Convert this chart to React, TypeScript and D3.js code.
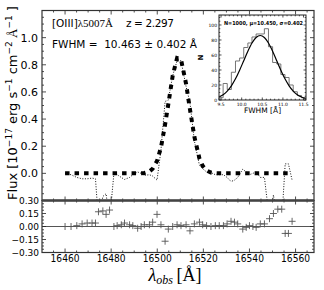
import { useRef, useEffect } from 'react';
import * as d3 from 'd3';

// observed wavelength grid (Angstrom)
const wavelength = [
	16460.0, 16462.6, 16465.1, 16467.4, 16469.6, 16471.7, 16473.2, 16474.5, 16476.4, 16477.8,
	16479.3, 16481.2, 16482.6, 16484.4, 16485.8, 16488.0, 16489.4, 16491.5, 16493.0, 16494.4,
	16496.6, 16498.0, 16499.9, 16501.6, 16503.4, 16504.8, 16506.7, 16508.6, 16510.3, 16512.5,
	16514.2, 16516.1, 16518.3, 16519.7, 16521.4, 16523.3, 16525.2, 16526.9, 16528.7, 16530.3,
	16532.0, 16533.5, 16534.9, 16537.1, 16538.6, 16540.0, 16541.5, 16542.9, 16544.7, 16546.5,
	16548.7, 16550.4, 16552.3, 16554.0, 16555.5, 16556.9, 16558.5,
];

// observed flux (dotted)
const dataFlux = [
	0.0, -0.01, -0.03, -0.04, -0.04, -0.035, -0.04, -0.35, -0.17, -0.15,
	-0.35, 0.0, -0.01, -0.03, -0.045, -0.03, -0.01, 0.01, 0.0, -0.015,
	-0.01, -0.02, -0.05, 0.17, 0.53, 0.54, 0.72, 0.83, 0.83, 0.64,
	0.52, 0.24, 0.06, 0.035, 0.01, 0.006, -0.01, -0.01, -0.01, -0.03,
	-0.06, -0.05, -0.03, 0.03, 0.01, -0.01, 0.0, 0.01, -0.03, -0.03,
	-0.35, -0.16, -0.35, -0.35, 0.07, 0.07, -0.05,
];

// gaussian model (thick dashed)
const modelFlux = [
	0, 0, 0, 0, 0, 0, 0, 0, 0, 0,
	0, 0, 0, 0, 0, 0, 0, 0, 0.001, 0.003,
	0.014, 0.034, 0.091, 0.19, 0.36, 0.51, 0.72, 0.85, 0.84, 0.66,
	0.47, 0.27, 0.11, 0.055, 0.021, 0.006, 0.001, 0, 0, 0,
	0, 0, 0, 0, 0, 0, 0, 0, 0, 0,
	0, 0, 0, 0, 0, 0, 0,
];

// residuals (lower panel)
const residual = [
	0.0, 0.0, 0.01, 0.03, 0.04, 0.04, 0.04, 0.17, 0.18, 0.14,
	0.19, 0.0, 0.01, 0.02, 0.04, 0.02, 0.01, -0.02, 0.0, 0.02,
	0.02, 0.05, 0.14, 0.02, -0.17, -0.03, 0.0, 0.02, 0.01, 0.02,
	-0.05, 0.03, 0.05, 0.02, 0.01, 0.0, 0.01, 0.01, 0.01, 0.03,
	0.06, 0.05, 0.03, -0.03, -0.01, 0.01, 0.0, -0.01, 0.03, 0.03,
	0.09, 0.15, 0.2, 0.2, -0.08, -0.08, 0.06,
];

// inset: FWHM histogram of 1000 realisations
const binEdges = [
	9.45, 9.55, 9.65, 9.75, 9.85, 9.95, 10.05, 10.15, 10.25, 10.35, 10.45,
	10.55, 10.65, 10.75, 10.85, 10.95, 11.05, 11.15, 11.25, 11.35, 11.45, 11.55,
];
const binCounts = [3, 22, 14, 37, 52, 56, 70, 76, 84, 88, 88, 95, 71, 50, 48, 34, 30, 20, 11, 6, 3];
const fitX = [9.45, 9.55, 9.65, 9.75, 9.85, 9.95, 10.05, 10.15, 10.25, 10.35, 10.45, 10.55, 10.65, 10.75, 10.85, 10.95, 11.05, 11.15, 11.25, 11.35, 11.45, 11.55];
const fitN = [3.9, 7.0, 11.9, 18.9, 28.2, 39.7, 52.4, 65.1, 76.0, 83.4, 86, 83.4, 76.0, 65.1, 52.4, 39.7, 28.2, 18.9, 11.9, 7.0, 3.9, 2.0];

const xTicks = [16460, 16480, 16500, 16520, 16540, 16560];
const fluxTicks = [0, 0.2, 0.4, 0.6, 0.8, 1.0];
const residTicks = [-0.3, -0.15, 0, 0.15, 0.3];
const insetXTicks = [9.5, 10.0, 10.5, 11.0, 11.5];
const insetYTicks = [0, 20, 40, 60, 80, 100];

const SANS = 'DejaVu Sans, sans-serif';
const SERIF = 'Liberation Serif, serif';

const App = () => {
	const svgRef = useRef<SVGSVGElement>(null);

	const width = 324;
	const height = 290;
	const left = 42;
	const right = 314;
	const mainTop = 10.5;
	const mainBottom = 200.5;
	const resBottom = 252.5;
	const inset = { left: 219, right: 306, top: 15, bottom: 100 };

	useEffect(() => {
		const svg = d3.select(svgRef.current);
		svg.selectAll('*').remove();

		const x = d3.scaleLinear().domain([16450, 16568]).range([left, right]);
		const yMain = d3.scaleLinear().domain([-0.2, 1.2]).range([mainBottom, mainTop]);
		const yRes = d3.scaleLinear().domain([-0.3, 0.3]).range([resBottom, mainBottom]);

		svg.append('rect').attr('width', width).attr('height', height).attr('fill', '#fff');

		const defs = svg.append('defs');
		defs.append('clipPath').attr('id', 'clip-main')
			.append('rect').attr('x', left).attr('y', mainTop).attr('width', right - left).attr('height', mainBottom - mainTop);
		defs.append('clipPath').attr('id', 'clip-res')
			.append('rect').attr('x', left).attr('y', mainBottom).attr('width', right - left).attr('height', resBottom - mainBottom);

		// helper: inward ticks on all four sides of a panel
		const drawTicks = (
			g: d3.Selection<SVGGElement, unknown, null, undefined>,
			xs: d3.ScaleLinear<number, number>,
			ys: d3.ScaleLinear<number, number>,
			xMajor: number[], xMinor: number[], yMajor: number[], yMinor: number[],
			x0: number, x1: number, y0: number, y1: number, big: number, small: number,
		) => {
			const path = d3.path();
			xMajor.forEach((v) => {
				const px = xs(v);
				path.moveTo(px, y1); path.lineTo(px, y1 - big);
				path.moveTo(px, y0); path.lineTo(px, y0 + big);
			});
			xMinor.forEach((v) => {
				const px = xs(v);
				path.moveTo(px, y1); path.lineTo(px, y1 - small);
				path.moveTo(px, y0); path.lineTo(px, y0 + small);
			});
			yMajor.forEach((v) => {
				const py = ys(v);
				path.moveTo(x0, py); path.lineTo(x0 + big, py);
				path.moveTo(x1, py); path.lineTo(x1 - big, py);
			});
			yMinor.forEach((v) => {
				const py = ys(v);
				path.moveTo(x0, py); path.lineTo(x0 + small, py);
				path.moveTo(x1, py); path.lineTo(x1 - small, py);
			});
			g.append('path').attr('d', path.toString()).attr('stroke', '#222').attr('stroke-width', 0.8).attr('fill', 'none');
		};

		const xMinor = d3.range(16455, 16568, 5).filter((v) => v % 20 !== 0);
		const mainYMinor = d3.range(-0.15, 1.2, 0.05).filter((v) => Math.abs(Math.round(v / 0.2) * 0.2 - v) > 1e-6);
		const resYMinor = d3.range(-0.2625, 0.3, 0.0375).filter((v) => Math.abs(Math.round(v / 0.15) * 0.15 - v) > 1e-6);

		// ---- main panel ----
		const main = svg.append('g');
		const lineMain = d3.line<number>().x((d, i) => x(wavelength[i])).y((d) => yMain(d));

		main.append('path')
			.datum(dataFlux)
			.attr('clip-path', 'url(#clip-main)')
			.attr('d', lineMain)
			.attr('fill', 'none')
			.attr('stroke', '#111')
			.attr('stroke-width', 1)
			.attr('stroke-dasharray', '1 1.6');

		main.append('path')
			.datum(modelFlux)
			.attr('clip-path', 'url(#clip-main)')
			.attr('d', lineMain)
			.attr('fill', 'none')
			.attr('stroke', '#000')
			.attr('stroke-width', 4)
			.attr('stroke-dasharray', '4.5 5');

		drawTicks(main, x, yMain, xTicks, xMinor, fluxTicks, mainYMinor, left, right, mainTop, mainBottom, 4, 2);

		main.selectAll('text.ytick')
			.data(fluxTicks)
			.enter()
			.append('text')
			.attr('x', left - 4)
			.attr('y', (d) => yMain(d))
			.attr('dy', '0.36em')
			.attr('text-anchor', 'end')
			.attr('font-family', SANS)
			.attr('font-size', 11)
			.text((d) => d3.format('.1f')(d));

		main.append('rect')
			.attr('x', left).attr('y', mainTop)
			.attr('width', right - left).attr('height', mainBottom - mainTop)
			.attr('fill', 'none').attr('stroke', '#333').attr('stroke-width', 1.2);

		// annotations
		const t1 = main.append('text').attr('x', 52).attr('y', 27).attr('font-family', SANS).attr('font-size', 10.5);
		t1.append('tspan').text('[OIII]');
		t1.append('tspan').attr('font-family', SERIF).attr('font-size', 11).text('λ5007Å');
		main.append('text')
			.attr('x', 126).attr('y', 27)
			.attr('font-family', SANS).attr('font-size', 10.5)
			.attr('textLength', 48).attr('lengthAdjust', 'spacing')
			.text('z = 2.297');
		main.append('text')
			.attr('x', 52).attr('y', 48)
			.attr('font-family', SANS).attr('font-size', 10.5)
			.style('white-space', 'pre')
			.text('FWHM =  10.463 ± 0.402 Å');

		// ---- residual panel ----
		const res = svg.append('g');
		res.append('line')
			.attr('x1', left).attr('x2', right)
			.attr('y1', yRes(0)).attr('y2', yRes(0))
			.attr('stroke', '#555').attr('stroke-width', 1);

		res.append('g')
			.attr('clip-path', 'url(#clip-res)')
			.selectAll('path')
			.data(residual)
			.enter()
			.append('path')
			.attr('transform', (d, i) => `translate(${x(wavelength[i])},${yRes(d)})`)
			.attr('d', 'M-3.5,0H3.5M0,-3.5V3.5')
			.attr('stroke', '#555')
			.attr('stroke-width', 0.9)
			.attr('fill', 'none');

		drawTicks(res, x, yRes, xTicks, xMinor, residTicks, resYMinor, left, right, mainBottom, resBottom, 4, 2);

		res.selectAll('text.rtick')
			.data(residTicks)
			.enter()
			.append('text')
			.attr('x', left - 3)
			.attr('y', (d) => yRes(d))
			.attr('dy', '0.36em')
			.attr('text-anchor', 'end')
			.attr('font-family', SANS)
			.attr('font-size', 9)
			.text((d) => d3.format('.2f')(d).replace('-', '\u2212'));

		res.selectAll('text.xtick')
			.data(xTicks)
			.enter()
			.append('text')
			.attr('x', (d) => x(d))
			.attr('y', 262)
			.attr('text-anchor', 'middle')
			.attr('font-family', SANS)
			.attr('font-size', 10.5)
			.attr('textLength', 29)
			.attr('lengthAdjust', 'spacingAndGlyphs')
			.text((d) => String(d));

		res.append('rect')
			.attr('x', left).attr('y', mainBottom)
			.attr('width', right - left).attr('height', resBottom - mainBottom)
			.attr('fill', 'none').attr('stroke', '#333').attr('stroke-width', 1.2);
		res.append('line')
			.attr('x1', left).attr('x2', right)
			.attr('y1', mainBottom).attr('y2', mainBottom)
			.attr('stroke', '#444').attr('stroke-width', 2.4);

		// axis labels
		const xl = svg.append('text')
			.attr('x', 175).attr('y', 281)
			.attr('text-anchor', 'middle')
			.attr('font-family', SERIF)
			.attr('font-size', 18);
		xl.append('tspan').attr('font-style', 'italic').text('λ');
		xl.append('tspan').attr('font-style', 'italic').attr('font-size', 12).attr('dy', 3).text('obs');
		xl.append('tspan').attr('dy', -3).text('\u2009[Å]');

		const yl = svg.append('text')
			.attr('transform', 'translate(16.5,103) rotate(-90)')
			.attr('text-anchor', 'middle')
			.attr('font-family', SANS)
			.attr('font-size', 13);
		yl.append('tspan').text('Flux [10');
		yl.append('tspan').attr('dy', -5).attr('font-size', 9).text('\u221217');
		yl.append('tspan').attr('dy', 5).text(' erg s');
		yl.append('tspan').attr('dy', -5).attr('font-size', 9).text('\u22121');
		yl.append('tspan').attr('dy', 5).text(' cm');
		yl.append('tspan').attr('dy', -5).attr('font-size', 9).text('\u22122');
		yl.append('tspan').attr('dy', 5).attr('font-family', SERIF).text(' Å');
		yl.append('tspan').attr('dy', -5).attr('font-size', 9).text('\u22121');
		yl.append('tspan').attr('dy', 5).text(' ]');

		// ---- inset ----
		const xi = d3.scaleLinear().domain([9.45, 11.56]).range([inset.left, inset.right]);
		const yi = d3.scaleLinear().domain([0, 113.3]).range([inset.bottom, inset.top]);
		const ins = svg.append('g');
		ins.append('rect')
			.attr('x', inset.left).attr('y', inset.top)
			.attr('width', inset.right - inset.left).attr('height', inset.bottom - inset.top)
			.attr('fill', '#fff');

		const steps: [number, number][] = [[binEdges[0], 0]];
		binCounts.forEach((c, i) => steps.push([binEdges[i], c]));
		steps.push([binEdges[binEdges.length - 1], binCounts[binCounts.length - 1]]);
		steps.push([binEdges[binEdges.length - 1], 0]);
		ins.append('path')
			.attr('d', d3.line().x((d) => xi(d[0])).y((d) => yi(d[1])).curve(d3.curveStepAfter)(steps))
			.attr('fill', 'none')
			.attr('stroke', '#666')
			.attr('stroke-width', 0.9);

		ins.append('path')
			.datum(fitX.map((v, i) => [v, fitN[i]] as [number, number]))
			.attr('d', d3.line().x((d) => xi(d[0])).y((d) => yi(d[1])).curve(d3.curveMonotoneX))
			.attr('fill', 'none')
			.attr('stroke', '#000')
			.attr('stroke-width', 1.2);

		drawTicks(
			ins, xi, yi, insetXTicks, d3.range(9.6, 11.5, 0.1).filter((v) => Math.abs(v * 2 - Math.round(v * 2)) > 1e-6),
			insetYTicks, d3.range(5, 113, 5).filter((v) => v % 20 !== 0),
			inset.left, inset.right, inset.top, inset.bottom, 2.5, 1.3,
		);

		ins.append('rect')
			.attr('x', inset.left).attr('y', inset.top)
			.attr('width', inset.right - inset.left).attr('height', inset.bottom - inset.top)
			.attr('fill', 'none').attr('stroke', '#222').attr('stroke-width', 1);

		ins.selectAll('text.iy')
			.data(insetYTicks)
			.enter()
			.append('text')
			.attr('x', inset.left - 2)
			.attr('y', (d) => yi(d))
			.attr('dy', '0.36em')
			.attr('text-anchor', 'end')
			.attr('font-family', SANS)
			.attr('font-size', 4.5)
			.text((d) => String(d));
		ins.selectAll('text.ix')
			.data(insetXTicks)
			.enter()
			.append('text')
			.attr('x', (d) => xi(d))
			.attr('y', inset.bottom + 5.5)
			.attr('text-anchor', 'middle')
			.attr('font-family', SANS)
			.attr('font-size', 4.5)
			.text((d) => d3.format('.1f')(d));

		ins.append('text')
			.attr('x', (inset.left + inset.right) / 2 + 1).attr('y', 24.5)
			.attr('text-anchor', 'middle')
			.attr('font-family', SANS)
			.attr('font-size', 5.4)
			.attr('font-weight', 600)
			.attr('textLength', 79)
			.attr('lengthAdjust', 'spacingAndGlyphs')
			.text('N=1000, \u03bc=10.450, \u03c3=0.402');
		ins.append('text')
			.attr('x', (inset.left + inset.right) / 2).attr('y', 113)
			.attr('text-anchor', 'middle')
			.attr('font-family', SANS)
			.attr('font-size', 7.5)
			.text('FWHM [Å]');
		ins.append('text')
			.attr('transform', `translate(${inset.left - 16},${(inset.top + inset.bottom) / 2}) rotate(-90)`)
			.attr('text-anchor', 'middle')
			.attr('font-family', SANS)
			.attr('font-size', 7)
			.attr('font-weight', 'bold')
			.text('N');
	}, []);

	return (
		<svg
			ref={svgRef}
			width={width}
			height={height}
			style={{ position: 'absolute', left: 0, top: 0 }}
		/>
	);
};

export default App;
